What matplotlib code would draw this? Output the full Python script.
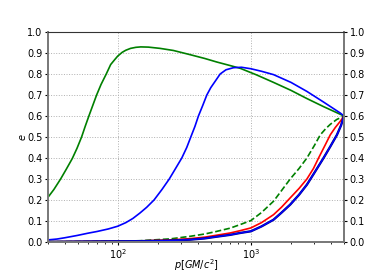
import matplotlib
matplotlib.use('Agg')
import numpy as np
import matplotlib.pyplot as plt

# green solid
p_green = [30, 33.2, 37.3, 41, 45.6, 49.5, 53.6, 57, 60.8, 65, 69.5, 75, 82.1,
           88.6, 94.9, 100, 108, 115, 125, 137, 149, 170, 208, 262, 350, 450,
           555, 700, 832, 1100, 1479, 2000, 2634, 3500, 5000]
e_green = [0.213, 0.25, 0.30, 0.345, 0.397, 0.446, 0.50, 0.55, 0.60, 0.65, 0.70,
           0.75, 0.80, 0.845, 0.868, 0.885, 0.903, 0.913, 0.922, 0.927, 0.929,
           0.928, 0.922, 0.912, 0.892, 0.874, 0.857, 0.84, 0.827, 0.796, 0.76,
           0.722, 0.683, 0.645, 0.60]

# blue solid (upper)
p_blue = [30, 35, 40, 49.6, 60, 70, 85, 100, 115, 130, 147, 165, 187.5, 215,
          244, 272, 303, 330, 354, 380, 404, 435, 467, 500, 539, 588, 650, 740,
          850, 1000, 1200, 1479, 2000, 2634, 3500, 4691, 5000]
e_blue = [0.01, 0.014, 0.02, 0.031, 0.042, 0.05, 0.062, 0.075, 0.092, 0.112,
          0.138, 0.165, 0.20, 0.25, 0.30, 0.35, 0.40, 0.45, 0.50, 0.55, 0.60,
          0.65, 0.70, 0.735, 0.765, 0.80, 0.82, 0.83, 0.832, 0.825, 0.813,
          0.797, 0.76, 0.717, 0.667, 0.614, 0.60]

# green dashed
p_gdash = [30, 100, 148, 250, 350, 450, 550, 700, 832, 1000, 1200, 1479, 1700,
           1973, 2300, 2634, 3000, 3317, 3650, 3942, 4400, 5000]
e_gdash = [0.001, 0.003, 0.006, 0.015, 0.027, 0.038, 0.05, 0.066, 0.083, 0.102,
           0.14, 0.194, 0.245, 0.30, 0.35, 0.40, 0.46, 0.51, 0.54, 0.56, 0.583,
           0.60]

# red
p_red = [30, 148, 250, 350, 450, 550, 700, 832, 1000, 1200, 1479, 1700, 1973,
         2300, 2634, 2950, 3222, 3600, 3942, 4300, 4691, 5000]
e_red = [0.001, 0.005, 0.01, 0.016, 0.023, 0.032, 0.043, 0.054, 0.067, 0.092,
         0.13, 0.166, 0.21, 0.255, 0.30, 0.35, 0.40, 0.46, 0.51, 0.545, 0.575,
         0.60]

# dark blue (lower)
p_low = [30, 148, 250, 350, 450, 550, 700, 832, 1000, 1200, 1479, 1700, 1973,
         2300, 2634, 3000, 3512, 3950, 4425, 4750, 5000]
e_low = [0.001, 0.004, 0.007, 0.011, 0.017, 0.025, 0.034, 0.043, 0.051, 0.074,
         0.106, 0.14, 0.178, 0.225, 0.273, 0.33, 0.40, 0.455, 0.51, 0.555, 0.60]

plt.rcParams['font.size'] = 7
fig = plt.figure(figsize=(3.82, 2.73), dpi=100)
ax = fig.add_axes([0.1257, 0.1136, 0.7748, 0.7692])

lw = 1.2
ax.plot(p_green, e_green, color='green', lw=lw)
ax.plot(p_blue, e_blue, color='blue', lw=lw)
ax.plot(p_gdash, e_gdash, color='green', lw=lw, ls='--')
ax.plot(p_red, e_red, color='red', lw=lw)
ax.plot(p_low, e_low, color='navy', lw=lw + 0.5)
ax.plot(p_low, e_low, color='blue', lw=lw - 0.2)

ax.set_xscale('log')
ax.set_xlim(30, 5000)
ax.set_ylim(0, 1)
ax.set_yticks(np.arange(0, 1.01, 0.1))
ax.grid(True, which='major', ls=':', color='#b0b0b0', lw=0.7)
ax.tick_params(labelright=True, right=True, labelsize=7, length=2.5, pad=1.5)
ax.tick_params(which='minor', length=1.5)
for s in ['left', 'right', 'bottom']:
    ax.spines[s].set_color('#777777')
    ax.spines[s].set_linewidth(1.4)
ax.spines['top'].set_color('#333333')

ax.set_xlabel('$p[GM/c^2]$', fontsize=7)
ax.xaxis.set_label_coords(0.5, -0.072)
ax.set_ylabel('$e$', fontsize=7, labelpad=-1)

fig.savefig('out.png', dpi=100)
